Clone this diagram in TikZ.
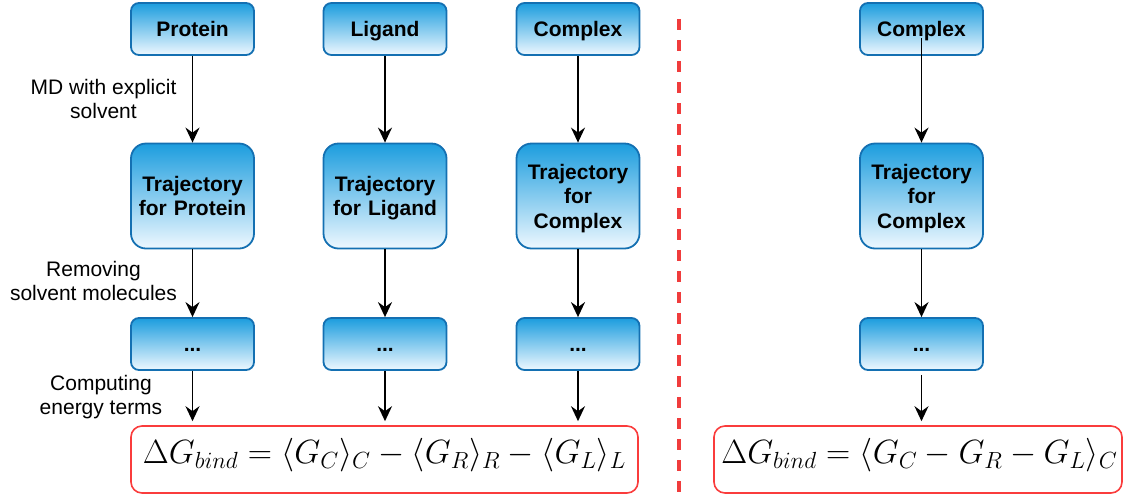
\documentclass[tikz,border=0pt]{standalone}
\usepackage[no-math]{fontspec}
\setmainfont{Liberation Sans}
\usetikzlibrary{arrows.meta}

\definecolor{boxtop}{RGB}{28,157,222}
\definecolor{boxbot}{RGB}{238,248,255}
\definecolor{boxline}{RGB}{20,112,178}
\definecolor{resline}{RGB}{250,60,60}
\definecolor{divline}{RGB}{240,60,60}

\begin{document}
\begin{tikzpicture}[x=1pt,y=-1pt,
  stage/.style={rectangle, rounded corners=8pt, draw=boxline, line width=1.8pt,
    top color=boxtop, bottom color=boxbot, minimum width=123pt, minimum height=52pt,
    inner sep=2pt, align=center, text width=118pt,
    font=\fontsize{21}{24.5}\selectfont\bfseries},
  oneline/.style={stage, text height=15pt, text depth=0pt},
  trajbox/.style={stage, rounded corners=15pt, minimum height=105pt},
  result/.style={rectangle, rounded corners=11pt, draw=resline, line width=1.6pt,
    minimum height=67pt, inner sep=0pt},
  note/.style={align=center, font=\fontsize{21}{24}\selectfont},
  arr/.style={-{Stealth[length=15pt,width=14pt,inset=5pt]}, line width=1.9pt, black},
  formula/.style={font=\fontsize{25}{30}\selectfont}
]
\useasboundingbox (0,0) rectangle (1124,496);

% input structures
\node[oneline] (p1) at (192.5,29) {Protein};
\node[oneline] (p2) at (385,29) {Ligand};
\node[oneline] (p3) at (578,29) {Complex};
\node[oneline] (p4) at (921.5,29) {Complex};

% MD trajectories (last line smashed so descenders do not shift the block)
\node[trajbox] (t1) at (192.5,196) {Trajectory\\\smash{for Protein}};
\node[trajbox] (t2) at (385,196) {Trajectory\\\smash{for Ligand}};
\node[trajbox] (t3) at (578,196) {Trajectory\\for\\\smash{Complex}};
\node[trajbox] (t4) at (921.5,196) {Trajectory\\for\\\smash{Complex}};

% stripped trajectories
\node[oneline] (d1) at (192.5,344) {...};
\node[oneline] (d2) at (385,344) {...};
\node[oneline] (d3) at (578,344) {...};
\node[oneline] (d4) at (921.5,344) {...};

% binding free energy expressions
\node[result, minimum width=507pt] (f1) at (384.5,459.5) {};
\node[formula] (e1) at (384.5,455.5)
  {\scalebox{1.35}{$\Delta G_{bind} = \langle G_C\rangle_C - \langle G_R\rangle_R - \langle G_L\rangle_L$}};
\node[result, minimum width=408pt] (f2) at (918,459.5) {};
\node[formula] (e2) at (919.5,455.5)
  {\scalebox{1.35}{$\Delta G_{bind} = \langle G_C - G_R - G_L\rangle_C$}};

% step labels
\node[note] (l1) at (103.5,99) {MD with explicit\\solvent};
\node[note] (l2) at (93.5,281) {Removing\\solvent molecules};
\node[note] (l3) at (101,397) {Computing\\energy terms};

% connectors
\foreach \i in {1,2,3} {
  \draw[arr] (p\i) -- (t\i);
}
\draw[arr] ([yshift=-9pt]p4.center) -- (t4);
\foreach \i in {1,2,3,4} {
  \draw[arr] (t\i) -- (d\i);
}
\foreach \i in {1,2,3} {
  \draw[arr, shorten >=4pt] (d\i.south) -- (d\i.south |- f1.north);
}
\draw[arr, shorten <=4pt, shorten >=4pt] (d4.south) -- (d4.south |- f2.north);

% divider between the two schemes
\coordinate (s1) at (679,19);
\coordinate (s2) at (679,492);
\draw[divline, line width=3.5pt, dash pattern=on 11pt off 10pt] (s1) -- (s2);
\end{tikzpicture}
\end{document}
